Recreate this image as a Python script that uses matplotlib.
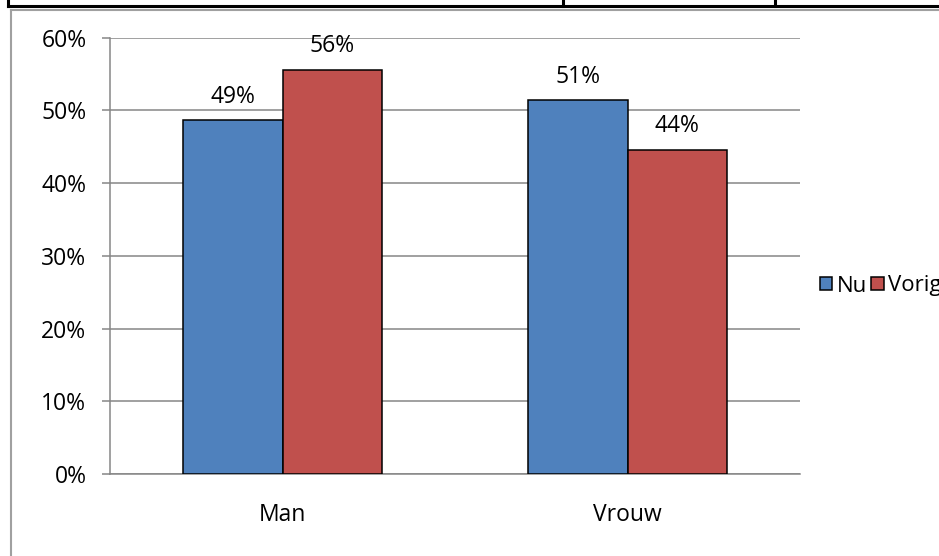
import matplotlib
matplotlib.use("Agg")
from matplotlib import pyplot as plt
from matplotlib.lines import Line2D
import numpy as np

# data
categories = ["Man", "Vrouw"]
nu = [48.7, 51.4]
vorig = [55.6, 44.6]
labels_nu = ["49%", "51%"]
labels_vorig = ["56%", "44%"]
y_ticks = [0, 10, 20, 30, 40, 50, 60]

plt.rcParams["font.family"] = ["Open Sans", "DejaVu Sans"]
FS = 16.5

W, H = 939, 556
fig = plt.figure(figsize=(W / 100, H / 100), dpi=100)
ax = fig.add_axes([110 / W, 1 - 474 / H, 690 / W, 436.5 / H])

grey = "#868686"
blue = "#4F81BD"
red = "#C0504D"

x = np.arange(len(categories))
bw = 0.288
b1 = ax.bar(x - bw / 2, nu, bw, color=blue, edgecolor="black", linewidth=1.1,
            label="Nu", zorder=3)
b2 = ax.bar(x + bw / 2, vorig, bw, color=red, edgecolor="black", linewidth=1.1,
            label="Vorig jaar", zorder=3)
ax.bar_label(b1, labels=labels_nu, padding=8, fontsize=FS)
ax.bar_label(b2, labels=labels_vorig, padding=8, fontsize=FS)

ax.set_xlim(-0.5, 1.5)
ax.set_ylim(0, 60)
ax.set_yticks(y_ticks)
ax.set_yticklabels([f"{t}%" for t in y_ticks], fontsize=FS)
ax.set_xticks(x)
ax.set_xticklabels(categories, fontsize=FS)
ax.tick_params(axis="x", length=0, pad=21)
ax.tick_params(axis="y", length=6, width=1.1, color=grey, pad=11)
ax.grid(axis="y", color=grey, linewidth=1.1, zorder=0)
for s in ["top", "right"]:
    ax.spines[s].set_visible(False)
for s in ["left", "bottom"]:
    ax.spines[s].set_color(grey)
    ax.spines[s].set_linewidth(1.1)

# legend, cut off at the right edge like in the original
fig.legend(handles=[b1, b2], loc="center left", ncol=2,
           bbox_to_anchor=(809 / W, 1 - 286 / H), frameon=False,
           fontsize=FS - 0.5, handlelength=0.55, handleheight=0.55,
           handletextpad=0.2, columnspacing=0.2, borderpad=0)

# chart border and table line above it
fig.add_artist(Line2D([11 / W, 11 / W], [0, 1 - 10 / H], color="#a0a0a0", lw=1.5))
fig.add_artist(Line2D([11 / W, 1], [1 - 10 / H, 1 - 10 / H], color="#a0a0a0", lw=1.5))
fig.add_artist(Line2D([8 / W, 1], [1 - 5.5 / H, 1 - 5.5 / H], color="black", lw=2.2))
for xv in [8, 563, 775]:
    fig.add_artist(Line2D([xv / W, xv / W], [1 - 5.5 / H, 1], color="black", lw=2.2))

fig.savefig("out.png", dpi=100)
